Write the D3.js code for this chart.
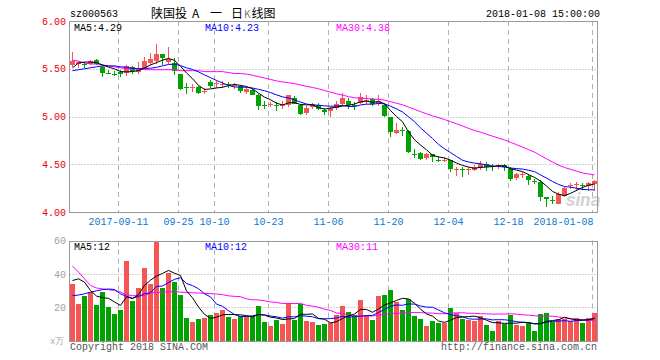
<!DOCTYPE html>
<meta charset="utf-8"/>
<html>
<head>
<script src="https://d3js.org/d3.v7.min.js"></script>
<style>
 * { padding: 0; margin: 0; }
 body { background: #fff; width: 660px; height: 360px; overflow: hidden; }
 text { font-family: "Liberation Mono", "DejaVu Sans Mono", monospace; font-size: 10px; }
</style>
</head>
<body>
<div id="chart"></div>
<script>
// trading days shown (88 sessions)
const dates = [
  "2017-08-30","2017-08-31","2017-09-01","2017-09-04","2017-09-05","2017-09-06","2017-09-07","2017-09-08",
  "2017-09-11","2017-09-12","2017-09-13","2017-09-14","2017-09-15",
  "2017-09-18","2017-09-19","2017-09-20","2017-09-21","2017-09-22",
  "2017-09-25","2017-09-26","2017-09-27","2017-09-28","2017-09-29",
  "2017-10-09","2017-10-10","2017-10-11","2017-10-12","2017-10-13",
  "2017-10-16","2017-10-17","2017-10-18","2017-10-19","2017-10-20",
  "2017-10-23","2017-10-24","2017-10-25","2017-10-26","2017-10-27",
  "2017-10-30","2017-10-31","2017-11-01","2017-11-02","2017-11-03",
  "2017-11-06","2017-11-07","2017-11-08","2017-11-09","2017-11-10",
  "2017-11-13","2017-11-14","2017-11-15","2017-11-16","2017-11-17",
  "2017-11-20","2017-11-21","2017-11-22","2017-11-23","2017-11-24",
  "2017-11-27","2017-11-28","2017-11-29","2017-11-30","2017-12-01",
  "2017-12-04","2017-12-05","2017-12-06","2017-12-07","2017-12-08",
  "2017-12-11","2017-12-12","2017-12-13","2017-12-14","2017-12-15",
  "2017-12-18","2017-12-19","2017-12-20","2017-12-21","2017-12-22",
  "2017-12-25","2017-12-26","2017-12-27","2017-12-28","2017-12-29",
  "2018-01-02","2018-01-03","2018-01-04","2018-01-05","2018-01-08"
];

const open = [
  5.54,5.55,5.55,5.55,5.59,5.52,5.46,5.45,5.47,5.46,
  5.52,5.47,5.51,5.56,5.58,5.65,5.57,5.56,5.44,5.31,
  5.31,5.31,5.26,5.36,5.345,5.34,5.345,5.32,5.32,5.26,
  5.275,5.23,5.12,5.125,5.125,5.11,5.12,5.19,5.12,5.04,
  5.10,5.12,5.07,5.06,5.09,5.13,5.16,5.12,5.14,5.165,
  5.18,5.13,5.12,4.99,4.83,4.86,4.85,4.61,4.62,4.57,
  4.61,4.545,4.535,4.54,4.448,4.455,4.448,4.44,4.46,4.50,
  4.48,4.48,4.49,4.45,4.36,4.395,4.38,4.325,4.31,4.16,
  4.126,4.08,4.17,4.273,4.283,4.283,4.27,4.29
];
const close = [
  5.58,5.57,5.54,5.58,5.55,5.46,5.457,5.447,5.44,5.53,
  5.48,5.51,5.58,5.60,5.65,5.61,5.60,5.48,5.29,5.30,
  5.31,5.25,5.265,5.32,5.35,5.345,5.34,5.325,5.27,5.29,
  5.23,5.11,5.117,5.13,5.11,5.135,5.22,5.135,5.03,5.09,
  5.135,5.08,5.05,5.09,5.135,5.19,5.12,5.117,5.205,5.17,
  5.13,5.16,5.01,4.84,4.86,4.855,4.63,4.60,4.56,4.61,
  4.575,4.54,4.542,4.45,4.455,4.452,4.455,4.476,4.50,4.47,
  4.476,4.497,4.47,4.35,4.40,4.40,4.34,4.322,4.16,4.137,
  4.12,4.19,4.25,4.28,4.29,4.276,4.30,4.32
];
const high = [
  5.68,5.58,5.57,5.59,5.60,5.54,5.49,5.48,5.49,5.54,
  5.53,5.57,5.625,5.66,5.76,5.65,5.73,5.61,5.45,5.35,
  5.34,5.32,5.30,5.38,5.37,5.37,5.36,5.35,5.33,5.31,
  5.29,5.24,5.16,5.15,5.15,5.16,5.23,5.21,5.13,5.11,
  5.14,5.14,5.09,5.10,5.16,5.25,5.19,5.15,5.25,5.22,
  5.19,5.22,5.135,4.995,4.93,4.89,4.855,4.66,4.63,4.616,
  4.61,4.59,4.58,4.546,4.47,4.47,4.47,4.487,4.53,4.52,
  4.50,4.50,4.50,4.47,4.41,4.42,4.40,4.35,4.33,4.16,
  4.17,4.21,4.26,4.30,4.31,4.30,4.31,4.34
];
const low = [
  5.52,5.51,5.51,5.54,5.54,5.41,5.44,5.42,5.41,5.42,
  5.45,5.44,5.50,5.54,5.55,5.54,5.55,5.43,5.28,5.24,
  5.26,5.24,5.24,5.30,5.30,5.30,5.30,5.29,5.25,5.24,
  5.22,5.065,5.08,5.10,5.06,5.08,5.10,5.13,5.02,5.02,
  5.08,5.065,5.02,5.00,5.07,5.12,5.08,5.07,5.13,5.135,
  5.11,5.11,5.00,4.79,4.82,4.80,4.62,4.57,4.54,4.54,
  4.52,4.52,4.52,4.42,4.38,4.365,4.39,4.43,4.44,4.43,
  4.43,4.45,4.43,4.32,4.34,4.36,4.28,4.29,4.11,4.05,
  4.08,4.08,4.16,4.24,4.22,4.23,4.22,4.22
];
// volume, x万 hands
const volume = [
  34.1,22.0,26.9,28.9,21.4,29.3,20.0,16.0,18.4,47.5,
  23.8,31.7,43.8,34.1,60.0,31.7,40.6,35.4,27.5,13.5,
  11.1,12.9,13.5,15.4,16.8,18.4,14.1,12.9,14.7,14.7,
  14.7,20.8,11.1,8.7,12.3,9.9,22.6,12.3,22.0,11.7,
  11.1,9.3,9.9,10.7,15.4,20.8,17.2,15.4,24.4,15.4,
  12.3,26.9,27.5,30.5,23.2,18.4,25.1,14.7,12.9,8.7,
  11.7,10.5,10.5,19.6,16.6,12.9,12.3,11.7,14.7,9.3,
  5.7,11.7,9.9,15.4,9.3,8.7,10.5,5.7,16.0,16.6,
  11.1,12.9,12.9,11.7,13.5,10.5,13.5,16.6
];

// moving-average values before a full window exists
const priceMa5Head = [5.51,5.56,5.57,5.57];
const priceMa10Head = [5.48,5.49,5.50,5.51,5.52,5.53,5.53,5.53,5.52];
const priceMa30Head = [5.59,5.58,5.56,5.55,5.55,5.54,5.53,5.52,5.51,5.50,
                       5.50,5.50,5.49,5.49,5.49,5.49,5.49,5.49,5.48,5.48,
                       5.48,5.48,5.47,5.47,5.47,5.47,5.46,5.45,5.45];
const volMa5Head = [36,37,35,30];
const volMa10Head = [26.9,27.3,28,29,29.8,30.5,30.9,30.6,28];
const volMa30Head = [44.6,41,37,33,31.5,31,30.5,30,29,27.5,
                     26.9,26.9,26.9,28.5,28.8,29,29.3,29.3,29,28.8,
                     28.6,28.5,28.3,28.1,27.9,27.5,26.8,26.5,26.3];

const priceTicks = [6.00, 5.50, 5.00, 4.50, 4.00];
const volTicks = [60, 40, 20];
const dateTicks = ["2017-09-11","2017-09-25","2017-10-10","2017-10-23","2017-11-06",
                   "2017-11-20","2017-12-04","2017-12-18","2018-01-08"];
const dateTickLabels = ["2017-09-11","09-25","10-10","10-23","11-06","11-20","12-04","12-18","2018-01-08"];

const priceMaLabels = ["MA5:4.29", "MA10:4.23", "MA30:4.38"];
const volMaLabels = ["MA5:12", "MA10:12", "MA30:11"];
const maColors = ["#000000", "#0000ff", "#ff00ff"];

const RED = "#f55555", GREEN = "#00a300";

function movingAvg(vals, n, head) {
  return vals.map((v, i) => i < n - 1 ? head[i] : d3.mean(vals.slice(i - n + 1, i + 1)));
}

const svg = d3.select("#chart").append("svg")
  .attr("width", 660).attr("height", 360);

const x = d3.scaleBand().domain(dates).range([70, 597]).paddingInner(1/6).paddingOuter(0);
const bw = x.bandwidth();
const y = d3.scaleLinear().domain([4, 6]).range([212, 21]);
const yv = d3.scaleLinear().domain([0, 60]).range([340.5, 240.5]);

const L = 69.5, R = 597.5;

// header
svg.append("text").attr("x", 70).attr("y", 17).attr("fill", "#000").text("sz000563");
const title = svg.append("text").attr("y", 17.5)
  .style("font-family", '"Noto Sans CJK SC", sans-serif').style("font-size", "12px").attr("fill", "#000");
[["陕国投", 151], ["A", 192], ["一", 210], ["日", 231], ["K", 244], ["线图", 251.5]].forEach(p => {
  title.append("tspan").attr("x", p[1]).text(p[0])
    .attr("fill", p[0] === "K" ? "#777" : "#000")
    .style("font-size", p[0] === "K" ? "10px" : null);
});
svg.append("text").attr("x", 600).attr("y", 17).attr("text-anchor", "end").attr("fill", "#000")
  .text("2018-01-08 15:00:00");

// panel grids
function panel(top, bottom, ticks, scale) {
  const g = svg.append("g");
  g.selectAll("line.h").data(ticks.filter(t => scale(t) > top + 1 && scale(t) < bottom - 1))
    .join("line").attr("class", "h")
    .attr("x1", L).attr("x2", R)
    .attr("y1", d => Math.round(scale(d)) + 0.5).attr("y2", d => Math.round(scale(d)) + 0.5)
    .attr("stroke", "#a8a8a8").attr("stroke-dasharray", "1,2");
  g.selectAll("line.v").data(dateTicks).join("line").attr("class", "v")
    .attr("x1", d => x(d) + 0.5).attr("x2", d => x(d) + 0.5)
    .attr("y1", top).attr("y2", bottom)
    .attr("stroke", "#b0b0b0").attr("stroke-dasharray", "5,4");
}
panel(21, 212, priceTicks, y);
panel(240.5, 340.5, volTicks, yv);

// sina watermark
svg.append("text").attr("x", 566).attr("y", 206)
  .style("font-family", "Roboto, sans-serif").style("font-size", "19px")
  .style("font-weight", "bold").style("font-style", "italic")
  .attr("fill", "#d4d4d4").text("sina");

// candles
const idx = d3.range(dates.length);
const up = i => close[i] >= open[i];
const cg = svg.append("g").attr("shape-rendering", "crispEdges");
cg.selectAll("line.wick").data(idx).join("line").attr("class", "wick")
  .attr("x1", i => x(dates[i]) + 2.5).attr("x2", i => x(dates[i]) + 2.5)
  .attr("y1", i => y(high[i])).attr("y2", i => y(low[i]))
  .attr("stroke", i => up(i) ? RED : GREEN);
cg.selectAll("rect.body").data(idx).join("rect").attr("class", "body")
  .attr("x", i => x(dates[i])).attr("width", bw)
  .attr("y", i => y(Math.max(open[i], close[i])))
  .attr("height", i => Math.max(1, Math.abs(y(open[i]) - y(close[i]))))
  .attr("fill", i => up(i) ? RED : GREEN);

// volume bars
svg.append("g").attr("shape-rendering", "crispEdges")
  .selectAll("rect").data(idx).join("rect")
  .attr("x", i => x(dates[i])).attr("width", bw)
  .attr("y", i => yv(volume[i])).attr("height", i => yv(0) - yv(volume[i]))
  .attr("fill", i => up(i) ? RED : GREEN);

// moving averages (MA30 drawn first so MA5 sits on top)
const priceMas = [movingAvg(close, 5, priceMa5Head), movingAvg(close, 10, priceMa10Head), movingAvg(close, 30, priceMa30Head)];
const volMas = [movingAvg(volume, 5, volMa5Head), movingAvg(volume, 10, volMa10Head), movingAvg(volume, 30, volMa30Head)];
function drawMas(series, scale) {
  const line = d3.line().x((d, i) => x(dates[i]) + 2.5).y(d => scale(d));
  const items = series.map((vals, k) => ({vals: vals, color: maColors[k]})).reverse();
  svg.append("g").selectAll("path").data(items).join("path")
    .attr("d", d => line(d.vals)).attr("fill", "none")
    .attr("stroke", d => d.color).attr("stroke-width", 1);
}
drawMas(priceMas, y);
drawMas(volMas, yv);

// frames
[[21, 212], [240.5, 340.5]].forEach(p => {
  svg.append("rect").attr("x", L).attr("y", Math.round(p[0]) + 0.5)
    .attr("width", R - L).attr("height", Math.round(p[1]) - Math.round(p[0]))
    .attr("fill", "none").attr("stroke", "#9a9a9a");
});

// MA legends
const maX = [74, 205, 336];
svg.selectAll("text.pma").data(priceMaLabels).join("text").attr("class", "pma")
  .attr("x", (d, i) => maX[i]).attr("y", 31).attr("fill", (d, i) => maColors[i]).text(d => d);
svg.selectAll("text.vma").data(volMaLabels).join("text").attr("class", "vma")
  .attr("x", (d, i) => maX[i]).attr("y", 250).attr("fill", (d, i) => maColors[i]).text(d => d);

// axes
function styleAxis(g, color) {
  g.select(".domain").remove();
  g.attr("font-family", null).attr("font-size", null);
  g.selectAll("text").attr("fill", color);
}
svg.append("g").attr("transform", "translate(66,0)")
  .call(d3.axisLeft(y).tickValues(priceTicks).tickFormat(d3.format(".2f")).tickSize(0).tickPadding(0))
  .call(g => styleAxis(g, "#e60000"));
svg.append("g").attr("transform", "translate(66,0)")
  .call(d3.axisLeft(yv).tickValues(volTicks).tickSize(0).tickPadding(0))
  .call(g => styleAxis(g, "#a0a0a0"));
svg.append("g").attr("transform", "translate(-2,212)")
  .call(d3.axisBottom(x).tickValues(dateTicks).tickFormat((d, i) => dateTickLabels[i]).tickSize(0).tickPadding(6))
  .call(g => styleAxis(g, "#0a78d0"))
  .call(g => g.select(".tick:last-of-type text").attr("text-anchor", "end").attr("x", 1));

// footer
svg.append("text").attr("x", 50).attr("y", 344).attr("fill", "#a8a8a8")
  .style("font-size", "9px").text("x万");
svg.append("text").attr("x", 70).attr("y", 349.5).attr("fill", "#555").text("Copyright 2018 SINA.COM");
svg.append("text").attr("x", 597).attr("y", 349.5).attr("text-anchor", "end").attr("fill", "#555")
  .text("http://finance.sina.com.cn");
</script>
</body>
</html>
